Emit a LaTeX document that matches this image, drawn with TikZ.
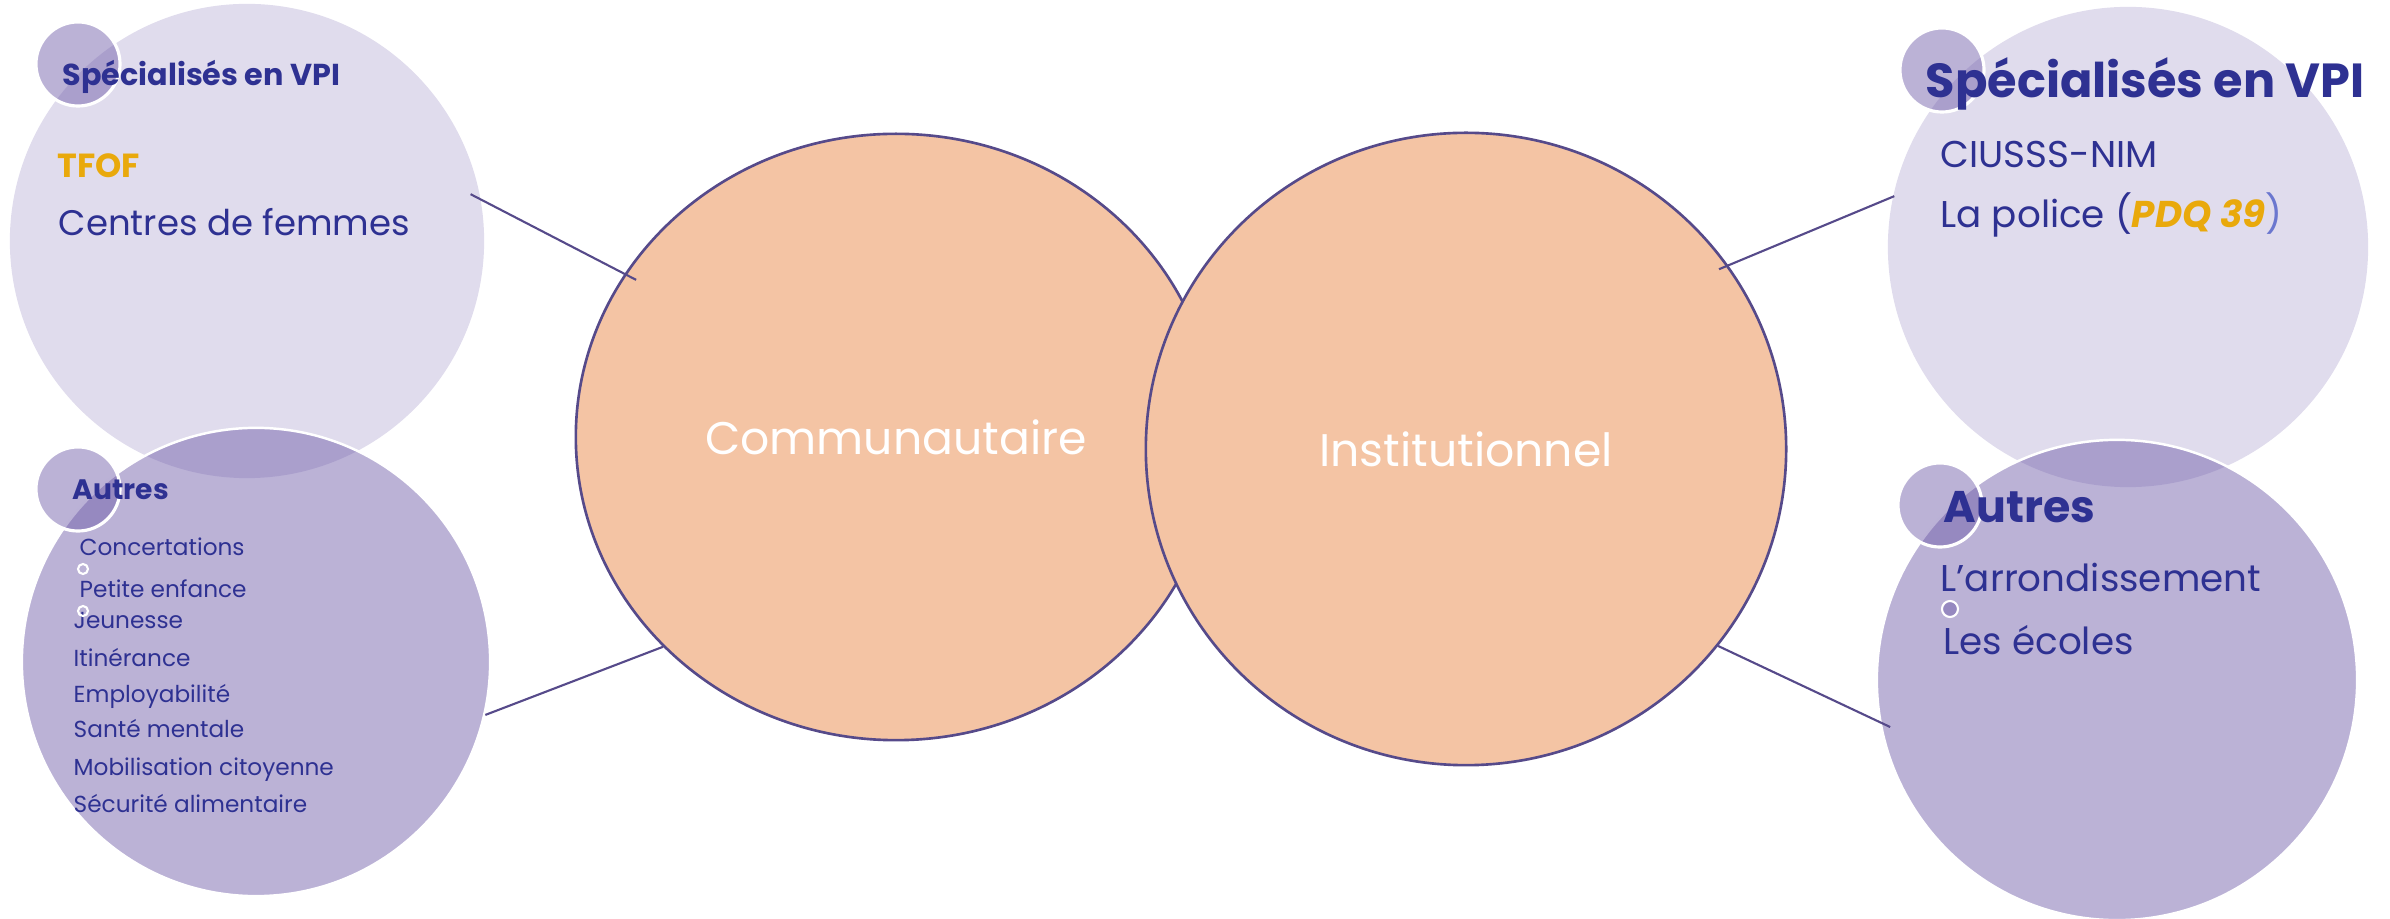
\documentclass[tikz,border=0pt]{standalone}
\usepackage{fontspec}
\setmainfont{Poppins}
\usetikzlibrary{shapes.geometric}

\definecolor{lav}{RGB}{110,91,168}
\definecolor{peach}{RGB}{244,196,164}
\definecolor{edge}{RGB}{86,74,138}
\definecolor{ink}{RGB}{46,49,146}
\definecolor{gold}{RGB}{233,169,12}
\definecolor{paren}{RGB}{107,119,207}

\tikzset{
  pale/.style={circle, inner sep=0, minimum size=4.74cm, fill=lav, fill opacity=0.21},
  deep/.style={circle, inner sep=0, minimum size=4.68cm, fill=lav, fill opacity=0.47,
    draw=white, line width=0.7pt},
  dot/.style={circle, inner sep=0, minimum size=0.84cm, fill=lav, fill opacity=0.47,
    draw=white, line width=0.9pt},
  pebble/.style={circle, inner sep=0, minimum size=#1, draw=white, line width=0.6pt},
  oval/.style={ellipse, inner sep=0, fill=peach, draw=edge, line width=0.75pt,
    text=white, font=\fontsize{13}{13}\selectfont},
  link/.style={draw=edge, line width=0.6pt},
  txt/.style={anchor=base west, inner sep=0, text=ink, font=\fontsize{#1}{#1}\selectfont}
}

\begin{document}
\begin{tikzpicture}
    [x=0.01cm, y=-0.01cm]

    \useasboundingbox (0, 0) rectangle (2390, 919);

    \node [pale] at (247, 241) (c0a) {};
    \node [pale, minimum size=4.8cm] at (2128, 247) (c0b) {};
    \node [deep] at (256, 662) (c1a) {};
    \node [deep, minimum size=4.8cm] at (2117, 680) (c1b) {};

    \node [dot] at (78, 64) (d0a) {};
    \node [dot] at (78, 489) (d1a) {};
    \node [dot] at (1942, 70) (d0b) {};
    \node [dot] at (1940, 505) (d1b) {};

    \node [oval, minimum width=6.4cm, minimum height=6.06cm] at (896, 437) (e1) {Communautaire};
    \node [oval, minimum width=6.4cm, minimum height=6.32cm] at (1466, 449) (e2) {Institutionnel};

    \draw [link, shorten <=-0.12cm, shorten >=-0.13cm] (c0a.10.6) -- (e1.149);
    \draw [link] (c1a.-13.1) -- (e1.-138.6);
    \draw [link, shorten <=-0.02cm, shorten >=-0.10cm] (c0b.168.6) -- (e2.35.5);
    \draw [link, shorten <=-0.12cm] (c1b.-170.4) -- (e2.-38.9);

    \node [txt=8.6] at (62, 86) (t0a) {\bfseries Spécialisés en VPI};
    \node [txt=9.5, text=gold] at (57, 178) (t0b) {\bfseries TFOF};
    \node [txt=10.1] at (58, 236) (t0c) {Centres de femmes};

    \node [txt=8] at (72, 500) (t1a) {\bfseries Autres};
    \node [txt=6.6] at (79, 556) (t1b) {Concertations};
    \node [txt=6.6] at (79, 598) (t1c) {Petite enfance};
    \node [txt=6.6] at (73, 629) (t1d) {Jeunesse};
    \node [txt=6.6] at (73, 667) (t1e) {Itinérance};
    \node [txt=6.6] at (73, 703) (t1f) {Employabilité};
    \node [txt=6.6] at (73, 738) (t1g) {Santé mentale};
    \node [txt=6.6] at (73, 776) (t1h) {Mobilisation citoyenne};
    \node [txt=6.6] at (73, 813) (t1i) {Sécurité alimentaire};
    \node [pebble=0.1cm] at (83, 569) (b1a) {};
    \node [pebble=0.1cm] at (83, 611) (b1b) {};

    \node [txt=13.6] at (1925, 98) (t2a) {\bfseries Spécialisés en VPI};
    \node [txt=10.6] at (1940, 168) (t2b) {CIUSSS-NIM};
    \node [txt=10.6] at (1940, 228) (t2c) {La police (\textcolor{gold}{\bfseries\itshape PDQ 39}\textcolor{paren}{)}};

    \node [txt=12.6] at (1943, 523) (t3a) {\bfseries Autres};
    \node [txt=10.6] at (1940, 592) (t3b) {L’arrondissement};
    \node [pebble=0.16cm, fill=lav, fill opacity=0.47] at (1950, 609) (b3a) {};
    \node [txt=10.6] at (1943, 655) (t3c) {Les écoles};

  \end{tikzpicture}
\end{document}
